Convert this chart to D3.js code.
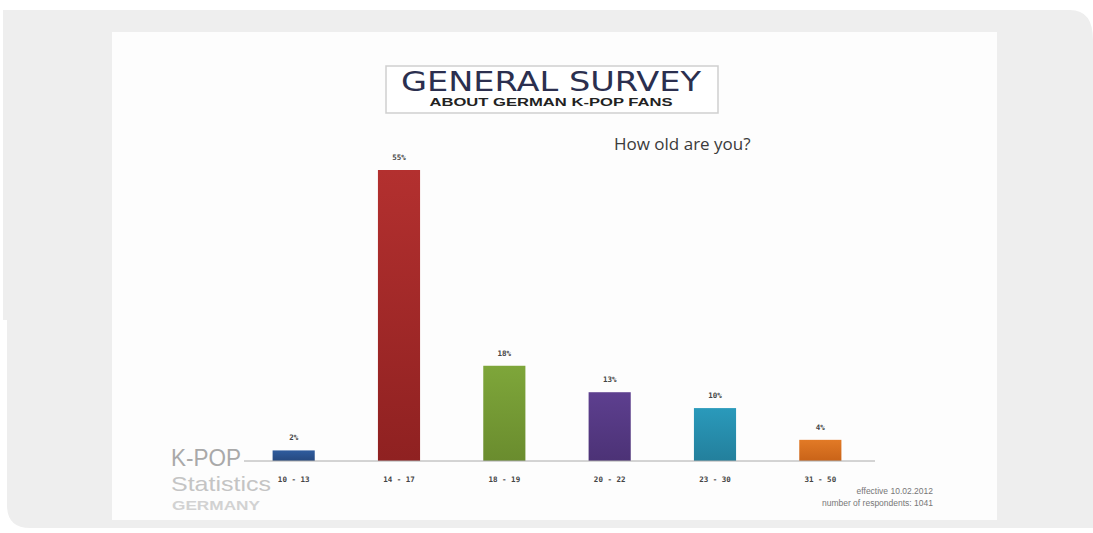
<!DOCTYPE html>
<html>
<head>
<meta charset="utf-8">
<script src="https://cdn.jsdelivr.net/npm/d3@7"></script>
<style>
  html, body { margin: 0; padding: 0; background: #ffffff; }
  svg { display: block; }
</style>
</head>
<body>
<svg id="chart" width="1093" height="533"></svg>
<script>
// Age groups and share of respondents (%)
const categories = ["10 - 13", "14 - 17", "18 - 19", "20 - 22", "23 - 30", "31 - 50"];
const values = [2, 55, 18, 13, 10, 4];
const valueLabels = ["2%", "55%", "18%", "13%", "10%", "4%"];
const barColors = ["#2f5c9e", "#b3302f", "#7ea63a", "#5d3f8f", "#2a9abb", "#e27a26"];
const barColorsDark = ["#26497f", "#8f2121", "#6a8c2e", "#4c3276", "#237f9c", "#c96318"];

const svg = d3.select("#chart");

// Card background and inner panel
svg.append("path")
  .attr("d", "M3,10 H1070 Q1093,10 1093,40 V528 H30 Q7,528 7,505 V320 H3 Z")
  .attr("fill", "#eeeeee");
svg.append("rect")
  .attr("x", 112).attr("y", 32).attr("width", 885).attr("height", 488)
  .attr("fill", "#fdfdfd");

// Gradients for bars
const defs = svg.append("defs");
barColors.forEach((c, i) => {
  const g = defs.append("linearGradient")
    .attr("id", "g" + i).attr("x1", 0).attr("y1", 0).attr("x2", 0).attr("y2", 1);
  g.append("stop").attr("offset", "0%").attr("stop-color", c);
  g.append("stop").attr("offset", "100%").attr("stop-color", barColorsDark[i]);
});

// Title box
const tb = svg.append("g");
tb.append("rect")
  .attr("x", 386).attr("y", 66).attr("width", 332).attr("height", 47)
  .attr("fill", "#ffffff").attr("stroke", "#cfcfcf").attr("stroke-width", 1.5);
tb.append("text")
  .attr("x", 551).attr("y", 91)
  .attr("text-anchor", "middle")
  .attr("font-family", "'DejaVu Sans', sans-serif")
  .attr("font-size", 26)
  .attr("fill", "#2b2f4f")
  .attr("textLength", 300)
  .attr("lengthAdjust", "spacingAndGlyphs")
  .text("GENERAL SURVEY");
tb.append("text")
  .attr("x", 551).attr("y", 106)
  .attr("text-anchor", "middle")
  .attr("font-family", "'Liberation Sans', Arial, sans-serif")
  .attr("font-weight", "bold")
  .attr("font-size", 11.5)
  .attr("fill", "#222222")
  .attr("textLength", 243)
  .attr("lengthAdjust", "spacingAndGlyphs")
  .text("ABOUT GERMAN K-POP FANS");

// Question
svg.append("text")
  .attr("x", 614).attr("y", 150)
  .attr("font-family", "'Open Sans', sans-serif")
  .attr("font-size", 17)
  .attr("fill", "#3a3a3a")
  .text("How old are you?");

// Scales
const x = d3.scaleBand()
  .domain(categories)
  .range([241, 873])
  .paddingInner(0.6)
  .paddingOuter(0.3);
const y = d3.scaleLinear()
  .domain([0, 55])
  .range([461, 170]);

// Bars
svg.append("g").selectAll("rect")
  .data(values)
  .join("rect")
  .attr("x", (d, i) => x(categories[i]))
  .attr("y", d => y(d))
  .attr("width", x.bandwidth())
  .attr("height", d => y(0) - y(d))
  .attr("fill", (d, i) => `url(#g${i})`);

// Value labels
svg.append("g").selectAll("text")
  .data(values)
  .join("text")
  .attr("x", (d, i) => x(categories[i]) + x.bandwidth() / 2)
  .attr("y", d => y(d) - 10)
  .attr("text-anchor", "middle")
  .attr("font-family", "'DejaVu Sans Mono', monospace")
  .attr("font-weight", "bold")
  .attr("font-size", 7.5)
  .attr("fill", "#444444")
  .text((d, i) => valueLabels[i]);

// Axis
const xAxis = d3.axisBottom(x).tickSize(0).tickPadding(16);
const ax = svg.append("g")
  .attr("transform", `translate(0,${y(0)})`)
  .call(xAxis);
ax.select(".domain").remove();
ax.append("line")
  .attr("x1", 244).attr("x2", 875)
  .attr("stroke", "#aaaaaa").attr("stroke-width", 1);
ax.selectAll(".tick text")
  .attr("font-family", "'DejaVu Sans Mono', monospace")
  .attr("font-weight", "bold")
  .attr("font-size", 7.5)
  .attr("fill", "#444444");

// Logo
const logo = svg.append("g").attr("font-family", "'Liberation Sans', Arial, sans-serif");
logo.append("text")
  .attr("x", 171).attr("y", 466)
  .attr("font-size", 24)
  .attr("fill", "#a9a9a9")
  .attr("textLength", 70)
  .attr("lengthAdjust", "spacingAndGlyphs")
  .text("K-POP");
logo.append("text")
  .attr("x", 171).attr("y", 491)
  .attr("font-size", 21)
  .attr("fill", "#c4c4c4")
  .attr("textLength", 100)
  .attr("lengthAdjust", "spacingAndGlyphs")
  .text("Statistics");
logo.append("text")
  .attr("x", 172).attr("y", 510)
  .attr("font-size", 13)
  .attr("font-weight", "bold")
  .attr("fill", "#d2d2d2")
  .attr("textLength", 88)
  .attr("lengthAdjust", "spacingAndGlyphs")
  .text("GERMANY");

// Footnote
const foot = svg.append("g")
  .attr("font-family", "'Liberation Sans', Arial, sans-serif")
  .attr("font-size", 8.5)
  .attr("fill", "#777777")
  .attr("text-anchor", "end");
foot.append("text").attr("x", 933).attr("y", 494).text("effective 10.02.2012");
foot.append("text").attr("x", 933).attr("y", 506).text("number of respondents: 1041");
</script>
</body>
</html>
